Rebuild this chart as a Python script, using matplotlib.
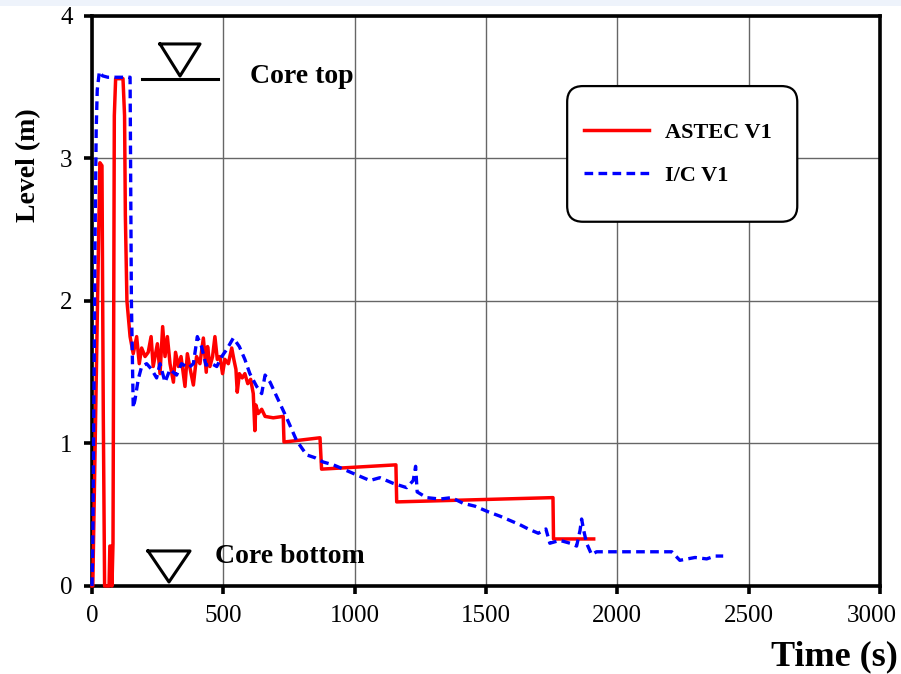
import numpy as np
import matplotlib
matplotlib.use('Agg')
import matplotlib.pyplot as plt
import matplotlib.transforms as mtransforms
from matplotlib.patches import FancyBboxPatch, Rectangle

plt.rcParams['font.family'] = ['Liberation Serif', 'DejaVu Serif']

# ASTEC V1 level vs time
astec_t = [0, 3, 30, 38, 43, 48, 65, 68, 73, 76,
           80, 85, 90, 118, 124, 127, 133, 145, 157, 170,
           180, 189, 202, 214, 225, 233, 249, 259, 269, 278,
           287, 297, 310, 318, 329, 339, 354, 363, 373, 386,
           398, 411, 424, 435, 440, 449, 459, 468, 477, 487,
           497, 506, 519, 532, 540, 548, 553, 561, 572, 582,
           593, 604, 614, 620, 624, 633, 646, 659, 690, 728,
           731, 868, 874, 1157, 1160, 1755, 1757, 1910]
astec_lvl = [0.00, 0.00, 2.97, 2.95, 1.20, 0.00, 0.00, 0.28, 0.28, 0.00,
             0.30, 3.30, 3.56, 3.56, 3.30, 2.60, 2.00, 1.75, 1.63, 1.75,
             1.56, 1.67, 1.61, 1.64, 1.75, 1.54, 1.70, 1.49, 1.82, 1.61,
             1.75, 1.56, 1.43, 1.64, 1.54, 1.61, 1.40, 1.63, 1.53, 1.41,
             1.61, 1.56, 1.74, 1.50, 1.68, 1.54, 1.61, 1.75, 1.59, 1.61,
             1.49, 1.59, 1.56, 1.67, 1.59, 1.52, 1.36, 1.49, 1.46, 1.49,
             1.42, 1.45, 1.35, 1.09, 1.27, 1.21, 1.24, 1.19, 1.18, 1.19,
             1.01, 1.04, 0.82, 0.85, 0.59, 0.62, 0.33, 0.33]

# I/C V1 level vs time
ic_t = [0, 3, 8, 12, 16, 20, 28, 40, 60, 145,
        150, 157, 164, 176, 189, 208, 227, 246, 259, 278,
        297, 322, 341, 367, 386, 401, 417, 434, 456, 475,
        494, 513, 538, 561, 582, 601, 627, 646, 659, 678,
        703, 741, 779, 817, 849, 880, 919, 1007, 1058, 1096,
        1147, 1198, 1223, 1232, 1238, 1274, 1325, 1369, 1413, 1458,
        1509, 1553, 1591, 1629, 1661, 1699, 1728, 1743, 1781, 1820,
        1845, 1858, 1864, 1872, 1883, 1902, 1921, 2010, 2174, 2207,
        2238, 2296, 2340, 2372, 2403]
ic_lvl = [0.00, 0.30, 1.50, 2.50, 3.20, 3.48, 3.61, 3.58, 3.57, 3.57,
          2.00, 1.25, 1.31, 1.45, 1.54, 1.56, 1.52, 1.46, 1.56, 1.43,
          1.52, 1.48, 1.56, 1.53, 1.56, 1.75, 1.68, 1.55, 1.56, 1.54,
          1.61, 1.66, 1.74, 1.68, 1.59, 1.49, 1.40, 1.35, 1.48, 1.43,
          1.33, 1.18, 1.02, 0.92, 0.90, 0.87, 0.85, 0.78, 0.74, 0.76,
          0.72, 0.69, 0.74, 0.84, 0.66, 0.62, 0.61, 0.62, 0.58, 0.56,
          0.52, 0.49, 0.46, 0.43, 0.40, 0.37, 0.40, 0.30, 0.32, 0.30,
          0.28, 0.39, 0.47, 0.39, 0.30, 0.22, 0.24, 0.24, 0.24, 0.24,
          0.18, 0.20, 0.19, 0.21, 0.21]

xticks = [0, 500, 1000, 1500, 2000, 2500, 3000]
yticks = [0, 1, 2, 3, 4]

fig = plt.figure(figsize=(9.01, 6.74), dpi=100)
# pale band along the top edge
fig.patches.append(Rectangle((0, 1 - 6 / 674), 1, 6 / 674, transform=fig.transFigure,
                             facecolor='#eef3fb', edgecolor='none'))
ax = fig.add_axes([0.1021, 0.1306, 0.8746, 0.8457])

ax.plot(astec_t, astec_lvl, color='#ff0000', lw=2.5, label='ASTEC V1',
        clip_on=False, zorder=3)
ax.plot(ic_t, ic_lvl, color='#0000ff', lw=2.4, ls=(0, (2.6, 1.6)),
        label='I/C V1', clip_on=False, zorder=4)

ax.set_xlim(0, 3000)
ax.set_ylim(0, 4)
ax.set_xticks(xticks)
ax.set_yticks(yticks)
ax.grid(True, color='0.4', lw=1.0)
ax.set_axisbelow(True)
for s in ax.spines.values():
    s.set_linewidth(2.6)
    s.set_color('black')
ax.tick_params(direction='out', length=6, width=2.6, labelsize=18, pad=8)

# keep the last x label inside the picture
fig.canvas.draw()
last = ax.get_xticklabels()[-1]
last.set_transform(last.get_transform() +
                   mtransforms.ScaledTranslation(-8 / 100, 0, fig.dpi_scale_trans))

ax.set_xlabel('Time (s)', fontsize=26, fontweight='bold')
ax.xaxis.set_label_coords(1.023, -0.125)
ax.xaxis.label.set_horizontalalignment('right')
ax.xaxis.label.set_verticalalignment('center')
ax.set_ylabel('Level (m)', fontsize=20, fontweight='bold')
ax.yaxis.set_label_coords(-0.081, 0.739)
ax.yaxis.label.set_verticalalignment('center')

# core top / bottom markers
ax.plot([0.0863, 0.1371, 0.1117, 0.0863], [0.9509, 0.9509, 0.8947, 0.9509],
        color='black', lw=2.2, transform=ax.transAxes, clip_on=False)
ax.plot([0.0635, 0.1599], [0.8895, 0.8895], color='black', lw=2.2,
        transform=ax.transAxes, clip_on=False)
ax.text(0.2005, 0.893, 'Core top', fontsize=20, fontweight='bold',
        va='center', ha='left', transform=ax.transAxes)
ax.plot([0.0711, 0.1244, 0.0977, 0.0711], [0.0614, 0.0614, 0.0070, 0.0614],
        color='black', lw=2.2, transform=ax.transAxes, clip_on=False)
ax.text(0.1561, 0.0509, 'Core bottom', fontsize=20, fontweight='bold',
        va='center', ha='left', transform=ax.transAxes)

# legend box
box = FancyBboxPatch((0.603, 0.639), 0.292, 0.238,
                     boxstyle='round,pad=0,rounding_size=0.02',
                     mutation_aspect=788 / 570, transform=ax.transAxes,
                     facecolor='white', edgecolor='black', lw=1.6, zorder=5)
ax.add_patch(box)
leg = ax.legend(loc='center', bbox_to_anchor=(0.743, 0.758), frameon=False,
                prop={'size': 16, 'weight': 'bold'}, handlelength=2.95,
                handletextpad=0.7, labelspacing=1.0)
leg.set_zorder(6)

fig.savefig('out.png', dpi=100)
